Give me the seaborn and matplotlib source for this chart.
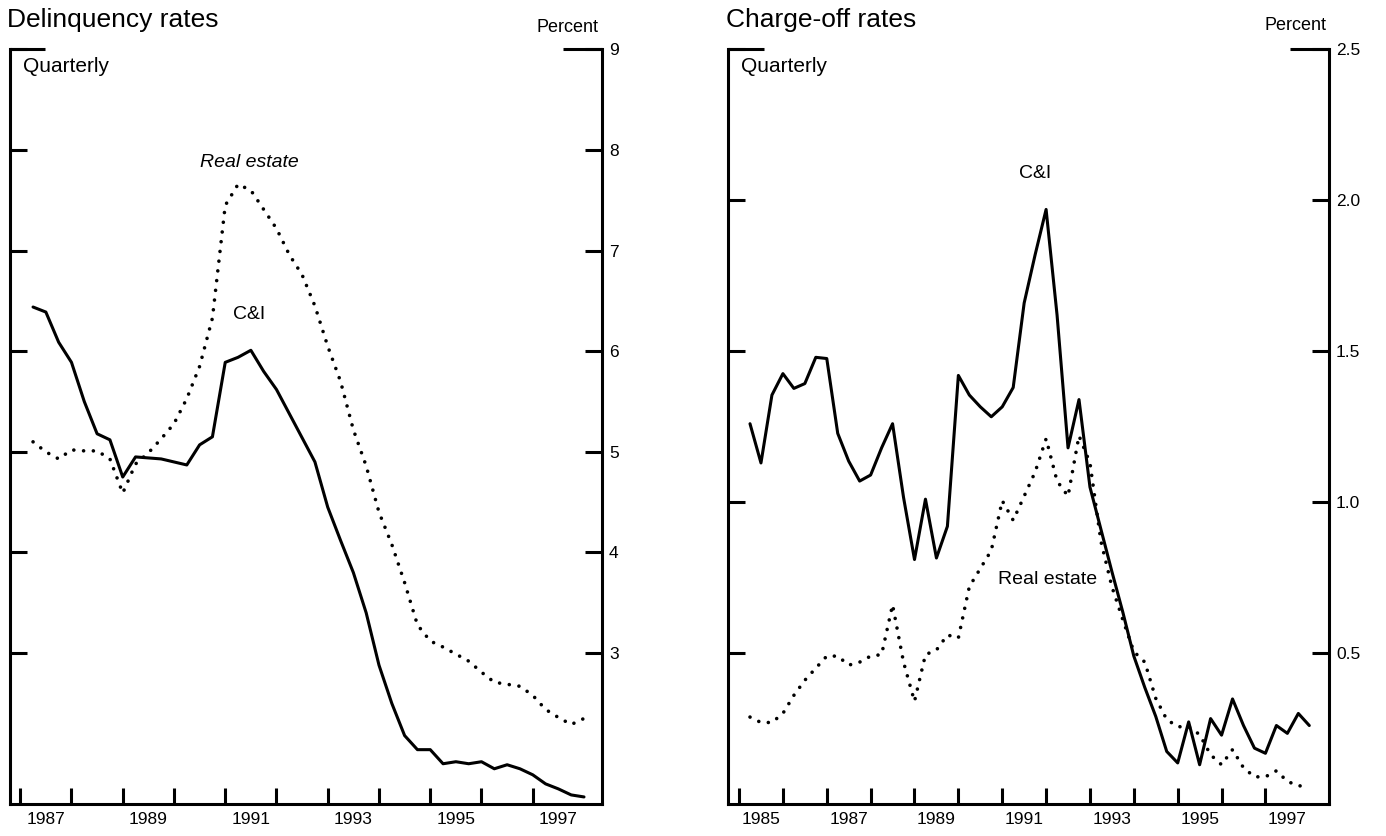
import matplotlib
matplotlib.use("Agg")
import matplotlib.pyplot as plt
import matplotlib.ticker as mticker
import numpy as np
import pandas as pd
import seaborn as sns

# Delinquency rates, quarterly, 1987Q1 - 1997Q4 (percent)
DELINQ_START = 1987
delinq_ci = [6.44, 6.39, 6.09, 5.89,
             5.50, 5.18, 5.12, 4.75,
             4.95, 4.94, 4.93, 4.90,
             4.87, 5.07, 5.15, 5.89,
             5.94, 6.01, 5.80, 5.62,
             5.38, 5.14, 4.90, 4.45,
             4.12, 3.80, 3.40, 2.88,
             2.50, 2.18, 2.04, 2.04,
             1.90, 1.92, 1.90, 1.92,
             1.85, 1.89, 1.85, 1.79,
             1.70, 1.65, 1.59, 1.57]
delinq_re = [5.10, 5.00, 4.93, 5.02,
             5.01, 5.01, 4.93, 4.59,
             4.88, 4.99, 5.13, 5.28,
             5.53, 5.85, 6.33, 7.45,
             7.66, 7.60, 7.41, 7.22,
             6.96, 6.76, 6.45, 6.05,
             5.70, 5.22, 4.86, 4.40,
             4.08, 3.70, 3.28, 3.12,
             3.06, 2.99, 2.92, 2.81,
             2.71, 2.69, 2.67, 2.58,
             2.44, 2.36, 2.29, 2.35]

# Charge-off rates, quarterly, 1985Q1 - 1997Q4 (percent)
CHARGE_START = 1985
charge_ci = [1.26, 1.13, 1.355, 1.426,
             1.377, 1.393, 1.48, 1.476,
             1.228, 1.136, 1.07, 1.09,
             1.18, 1.26, 1.016, 0.81,
             1.01, 0.815, 0.92, 1.42,
             1.355, 1.316, 1.283, 1.316,
             1.38, 1.66, 1.82, 1.97,
             1.62, 1.18, 1.34, 1.05,
             0.91, 0.77, 0.635, 0.49,
             0.386, 0.29, 0.174, 0.136,
             0.272, 0.13, 0.283, 0.228,
             0.348, 0.26, 0.185, 0.168,
             0.26, 0.234, 0.30, 0.26]
charge_re = [0.288, 0.27, 0.27, 0.30,
             0.36, 0.41, 0.45, 0.49,
             0.49, 0.46, 0.47, 0.49,
             0.495, 0.66, 0.47, 0.34,
             0.495, 0.51, 0.56, 0.55,
             0.72, 0.78, 0.84, 1.005,
             0.94, 1.02, 1.10, 1.21,
             1.07, 1.02, 1.22, 1.13,
             0.87, 0.72, 0.61, 0.505,
             0.47, 0.35, 0.28, 0.256,
             0.256, 0.23, 0.163, 0.13,
             0.18, 0.12, 0.09, 0.09,
             0.11, 0.075, 0.06, 0.06]

delinq_yticks = [3, 4, 5, 6, 7, 8, 9]
charge_yticks = [0.5, 1.0, 1.5, 2.0, 2.5]

LW = 2.2
DOTS = (0, (0.01, 2.7))


def quarter_frame(start, ci, re):
    # each quarter is plotted at the end of the quarter
    t = start + (np.arange(len(ci)) + 1) / 4.0
    return pd.DataFrame({"t": t, "ci": ci, "re": re})


def draw_panel(ax, df, xlim, ylim, yticks, first_year, last_year, fmt):
    sns.lineplot(data=df, x="t", y="ci", ax=ax, color="black", lw=LW)
    sns.lineplot(data=df, x="t", y="re", ax=ax, color="black", lw=2.6)
    dotted = ax.lines[-1]
    dotted.set_linestyle(DOTS)
    dotted.set_dash_capstyle("round")

    ax.set_xlim(*xlim)
    ax.set_ylim(*ylim)
    ax.set_xlabel("")
    ax.set_ylabel("")

    years = np.arange(first_year, last_year + 1)
    ax.set_xticks(years)
    ax.set_xticklabels([""] * len(years))
    odd = [y for y in years if y % 2 == 1]
    ax.set_xticks([y + 0.5 for y in odd], minor=True)
    ax.set_xticklabels([str(y) for y in odd], minor=True)
    ax.tick_params(axis="x", which="major", direction="in", length=11.5,
                   width=2.2, bottom=True, top=False, color="black")
    ax.tick_params(axis="x", which="minor", length=0, pad=6, labelsize=12.5,
                   labelcolor="black")

    ax.set_yticks(yticks)
    ax.yaxis.set_major_formatter(mticker.FormatStrFormatter(fmt))
    ax.tick_params(axis="y", which="major", direction="in", length=12.5,
                   width=2.2, left=True, right=True, labelleft=False,
                   labelright=True, labelsize=12.5, pad=5, color="black",
                   labelcolor="black")
    ax.tick_params(axis="y", which="minor", left=False, right=False)

    for side in ["left", "right", "bottom"]:
        ax.spines[side].set_linewidth(2.2)
        ax.spines[side].set_color("black")
    ax.spines["top"].set_visible(False)

    # longer corner marks at the top of the frame
    ax.plot([0, 0.06], [1, 1], transform=ax.transAxes, color="black",
            lw=2.2, clip_on=False, solid_capstyle="butt")
    ax.plot([0.935, 1], [1, 1], transform=ax.transAxes, color="black",
            lw=2.2, clip_on=False, solid_capstyle="butt")
    ax.text(0.022, 0.977, "Quarterly", transform=ax.transAxes,
            ha="left", va="center", fontsize=15)


def main():
    sns.set_theme(style="ticks")
    plt.rcParams["font.family"] = ["Liberation Sans", "DejaVu Sans"]
    plt.rcParams["text.color"] = "black"
    plt.rcParams["axes.labelcolor"] = "black"
    plt.rcParams["xtick.color"] = "black"
    plt.rcParams["ytick.color"] = "black"

    fig = plt.figure(figsize=(13.86, 8.36), dpi=100)
    ax1 = fig.add_axes([0.0072, 0.0383, 0.4271, 0.9025])
    ax2 = fig.add_axes([0.5253, 0.0383, 0.4336, 0.9025])

    d1 = quarter_frame(DELINQ_START, delinq_ci, delinq_re)
    draw_panel(ax1, d1, (1986.8, 1998.35), (1.5, 9), delinq_yticks,
               1987, 1997, "%d")
    ax1.text(1991.47, 7.88, "Real estate", ha="center", va="center",
             fontsize=14, style="italic")
    ax1.text(1991.47, 6.37, "C&I", ha="center", va="center", fontsize=14)

    d2 = quarter_frame(CHARGE_START, charge_ci, charge_re)
    draw_panel(ax2, d2, (1984.75, 1998.45), (0, 2.5), charge_yticks,
               1985, 1997, "%.1f")
    ax2.text(1991.75, 2.09, "C&I", ha="center", va="center", fontsize=14)
    ax2.text(1992.03, 0.745, "Real estate", ha="center", va="center",
             fontsize=14)

    fig.text(0.005, 0.976, "Delinquency rates", ha="left", va="center",
             fontsize=19)
    fig.text(599 / 1386, 1 - 27 / 836, "Percent", ha="right", va="center",
             fontsize=13)
    fig.text(726 / 1386, 0.976, "Charge-off rates", ha="left", va="center",
             fontsize=19)
    fig.text(1326 / 1386, 1 - 25 / 836, "Percent", ha="right", va="center",
             fontsize=13)

    fig.savefig("out.png", dpi=100, facecolor="white")


if __name__ == '__main__':
    main()
